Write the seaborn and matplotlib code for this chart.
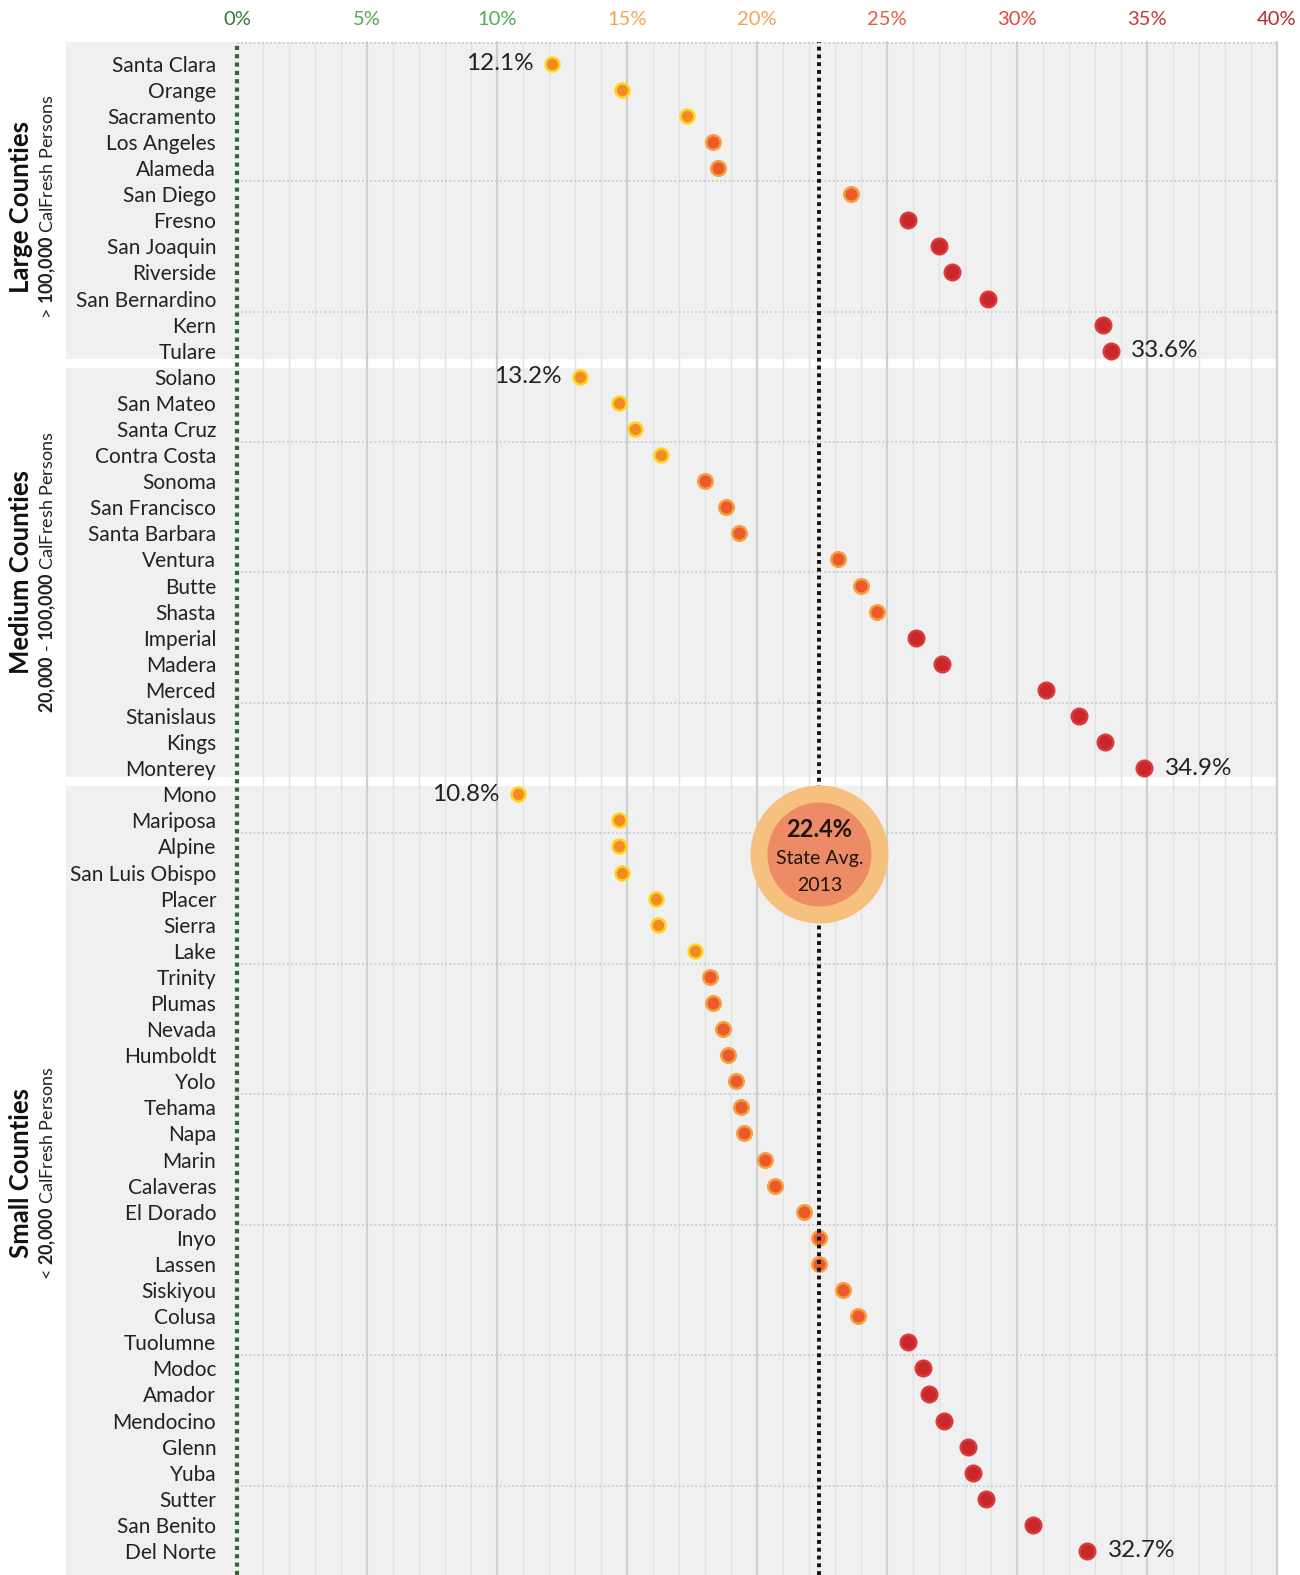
import matplotlib
matplotlib.use("Agg")
import matplotlib.pyplot as plt
import matplotlib.transforms as mtransforms
from matplotlib.patches import Rectangle
import numpy as np
import pandas as pd
import seaborn as sns

# CalFresh participation rate by county, 2013 (%)
large_counties = ["Santa Clara", "Orange", "Sacramento", "Los Angeles", "Alameda",
                  "San Diego", "Fresno", "San Joaquin", "Riverside", "San Bernardino",
                  "Kern", "Tulare"]
large_rates = [12.1, 14.8, 17.3, 18.3, 18.5, 23.6, 25.8, 27.0, 27.5, 28.9, 33.3, 33.6]

medium_counties = ["Solano", "San Mateo", "Santa Cruz", "Contra Costa", "Sonoma",
                   "San Francisco", "Santa Barbara", "Ventura", "Butte", "Shasta",
                   "Imperial", "Madera", "Merced", "Stanislaus", "Kings", "Monterey"]
medium_rates = [13.2, 14.7, 15.3, 16.3, 18.0, 18.8, 19.3, 23.1, 24.0, 24.6,
                26.1, 27.1, 31.1, 32.4, 33.4, 34.9]

small_counties = ["Mono", "Mariposa", "Alpine", "San Luis Obispo", "Placer", "Sierra",
                  "Lake", "Trinity", "Plumas", "Nevada", "Humboldt", "Yolo", "Tehama",
                  "Napa", "Marin", "Calaveras", "El Dorado", "Inyo", "Lassen", "Siskiyou",
                  "Colusa", "Tuolumne", "Modoc", "Amador", "Mendocino", "Glenn", "Yuba",
                  "Sutter", "San Benito", "Del Norte"]
small_rates = [10.8, 14.7, 14.7, 14.8, 16.1, 16.2, 17.6, 18.2, 18.3, 18.7, 18.9, 19.2,
               19.4, 19.5, 20.3, 20.7, 21.8, 22.4, 22.4, 23.3, 23.9, 25.8, 26.4, 26.6,
               27.2, 28.1, 28.3, 28.8, 30.6, 32.7]

group_titles = ["Large Counties", "Medium Counties", "Small Counties"]
group_subtitles = [r"> $\mathbf{100{,}000}$ CalFresh Persons",
                   r"$\mathbf{20{,}000}$ - $\mathbf{100{,}000}$ CalFresh Persons",
                   r"< $\mathbf{20{,}000}$ CalFresh Persons"]

state_avg = 22.4

tick_values = [0, 5, 10, 15, 20, 25, 30, 35, 40]
tick_labels = ["0%", "5%", "10%", "15%", "20%", "25%", "30%", "35%", "40%"]
tick_colors = ["#2f7a34", "#58a84e", "#4caf50", "#f4a652", "#f2a354",
               "#e65c3a", "#e0463a", "#c43a35", "#b5282c"]

bands = ["low", "mid", "high"]
band_edges = [0, 17.9, 25, 100]
band_face = {"low": "#f28a26", "mid": "#ea5a2a", "high": "#c8282c"}
band_edge = {"low": "#ffd420", "mid": "#f6a040", "high": "#dc3a3a"}
band_size = {"low": 100, "mid": 110, "high": 125}

frames = []
for title, counties, rates in zip(group_titles,
                                  [large_counties, medium_counties, small_counties],
                                  [large_rates, medium_rates, small_rates]):
    frames.append(pd.DataFrame({"county": counties, "rate": rates, "group": title}))
df = pd.concat(frames, ignore_index=True)
df["row"] = np.arange(len(df))
df["band"] = pd.cut(df["rate"], band_edges, labels=bands)

sns.set_theme(style="white")
plt.rcParams["font.family"] = ["Lato", "DejaVu Sans"]
plt.rcParams["mathtext.fontset"] = "custom"
plt.rcParams["mathtext.rm"] = "Lato"
plt.rcParams["mathtext.bf"] = "Lato:bold"

W, H = 1300, 1575
fig = plt.figure(figsize=(13, 15.75), dpi=100)
fig.patch.set_facecolor("white")
ax = fig.add_axes([237 / W, 0, 1040 / W, 1 - 42 / H])
ax.set_facecolor("none")

y_top, y_bottom = -0.83, 57.92
gap = 0.17
blend = mtransforms.blended_transform_factory(ax.transAxes, ax.transData)
bg_left = (66 - 237) / 1040

# grey panels per group
for i, title in enumerate(group_titles):
    rows = df.loc[df["group"] == title, "row"]
    y0 = y_top if i == 0 else rows.min() - 0.5 + gap
    y1 = y_bottom if i == len(group_titles) - 1 else rows.max() + 0.5 - gap
    ax.add_patch(Rectangle((bg_left, y0), 1 - bg_left, y1 - y0, transform=blend,
                           facecolor="#f0f0f0", lw=0, clip_on=False, zorder=0))

# vertical grid
for v in range(1, 41):
    if v % 5 == 0:
        ax.axvline(v, color="#cfcfcf", lw=1.6, zorder=1, clip_on=False)
    else:
        ax.axvline(v, color="#e2e2e2", lw=1.0, zorder=1)

# dotted separators every five rows
ax.hlines(np.arange(4.5, len(df) - 1, 5), 0, 40, colors="#c6c6c6",
          linestyles=(0, (1, 1.5)), lw=1.2, zorder=1.5)
ax.hlines([y_top + 0.02], 0, 40, colors="#c6c6c6", linestyles=(0, (1, 1.5)),
          lw=1.2, zorder=1.5, clip_on=False)

ax.axvline(0, color="#2f6b30", lw=3, ls=(0, (1, 1)), zorder=2, clip_on=False)

for b in bands:
    sub = df[df["band"] == b]
    sns.scatterplot(data=sub, x="rate", y="row", ax=ax, color=band_face[b],
                    edgecolor=band_edge[b], linewidth=1.8, s=band_size[b], zorder=3)

ax.axvline(state_avg, color="#111111", lw=2.8, ls=(0, (1, 1)), zorder=4)

# min / max labels per group
for title in group_titles:
    sub = df[df["group"] == title]
    lo = sub.loc[sub["rate"].idxmin()]
    hi = sub.loc[sub["rate"].idxmax()]
    ax.annotate(f"{lo['rate']:.1f}%", (lo["rate"], lo["row"]), xytext=(-13, 0),
                textcoords="offset points", ha="right", va="center",
                fontsize=17.5, color="#222222", zorder=5)
    ax.annotate(f"{hi['rate']:.1f}%", (hi["rate"], hi["row"]), xytext=(15, 0),
                textcoords="offset points", ha="left", va="center",
                fontsize=17.5, color="#222222", zorder=5)

# state average badge
badge_row = 30.3
ax.scatter([state_avg], [badge_row], s=(138 * 0.72) ** 2, color="#f6c07e", lw=0, zorder=6)
ax.scatter([state_avg], [badge_row], s=(104 * 0.72) ** 2, color="#ec8b65", lw=0, zorder=7)
ax.annotate(f"{state_avg:.1f}%", (state_avg, badge_row), xytext=(0, 17.5),
            textcoords="offset points", ha="center", va="center",
            fontsize=17, fontweight="bold", color="#1e1410", zorder=8)
ax.annotate("State Avg.", (state_avg, badge_row), xytext=(0, -3),
            textcoords="offset points", ha="center", va="center",
            fontsize=14, color="#1e1410", zorder=8)
ax.annotate("2013", (state_avg, badge_row), xytext=(0, -22.5),
            textcoords="offset points", ha="center", va="center",
            fontsize=14, color="#1e1410", zorder=8)

# group titles
side = mtransforms.blended_transform_factory(fig.transFigure, ax.transData)
for title, subtitle in zip(group_titles, group_subtitles):
    rows = df.loc[df["group"] == title, "row"]
    yc = (rows.min() + rows.max()) / 2
    ax.text(21 / W, yc, title, transform=side, rotation=90, ha="center", va="center",
            fontsize=18.5, fontweight="bold", color="#111111")
    ax.text(48 / W, yc, subtitle, transform=side, rotation=90, ha="center",
            va="center", fontsize=13, color="#222222")

ax.set_xlim(0, 40)
ax.set_ylim(y_bottom, y_top)
ax.set_yticks(df["row"])
ax.set_yticklabels(df["county"], fontsize=15, color="#222222")
ax.xaxis.tick_top()
ax.set_xticks(tick_values)
ax.set_xticklabels(tick_labels, fontsize=14.5)
for lab, c in zip(ax.get_xticklabels(), tick_colors):
    lab.set_color(c)
ax.tick_params(axis="y", length=0, pad=15)
ax.tick_params(axis="x", length=0, pad=10)
ax.set_xlabel("")
ax.set_ylabel("")
for sp in ax.spines.values():
    sp.set_visible(False)

fig.savefig("out.png", dpi=100)
